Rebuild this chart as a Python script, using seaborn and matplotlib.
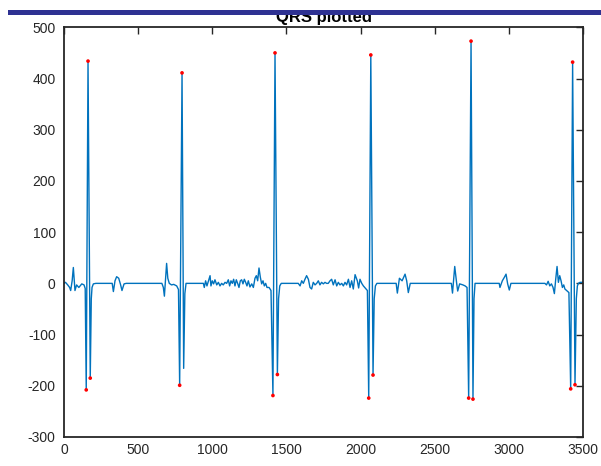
import matplotlib
matplotlib.use("Agg")
import matplotlib.pyplot as plt
from matplotlib.patches import Rectangle
import seaborn as sns
import pandas as pd

# ECG trace: sample index and filtered amplitude
sample_index = [
    0, 10, 25, 38, 45, 55, 63, 74, 85, 100, 120, 135, 143,
    150, 162, 177, 184, 189, 198, 215,
    325, 333, 344, 355, 369, 382, 391, 405, 420,
    660, 670, 677, 684, 692, 700, 710, 725, 740, 760, 772,
    780, 796, 807, 815, 823,
    940, 946, 955, 964, 978, 985, 991, 1000, 1009, 1018, 1030, 1041, 1052,
    1063, 1074, 1086, 1097, 1108, 1117, 1126, 1135, 1144, 1153, 1162, 1171,
    1180, 1189, 1198, 1207, 1216, 1225, 1234, 1243, 1254, 1266, 1277, 1288,
    1297, 1306, 1315, 1324, 1333, 1342, 1351, 1360, 1369, 1383, 1396,
    1409, 1423, 1439, 1447, 1455, 1465,
    1580, 1592, 1603, 1614, 1625, 1636, 1648, 1659, 1670, 1681, 1693, 1704,
    1715, 1726, 1737, 1749, 1760, 1771, 1782, 1794, 1805, 1816, 1828, 1839,
    1850, 1861, 1873, 1884, 1895, 1906, 1918, 1929, 1940, 1951, 1963, 1969,
    1978, 1987, 1996, 2008, 2019, 2028, 2037, 2046,
    2055, 2069, 2084, 2092, 2100, 2110,
    2240, 2248, 2262, 2280, 2300, 2311, 2322, 2335,
    2612, 2620, 2635, 2648, 2655, 2668, 2690, 2705, 2718,
    2729, 2745, 2758, 2765, 2772,
    2935, 2940, 2956, 2970, 2981, 2992, 3003, 3014,
    3243, 3254, 3265, 3276, 3287, 3298, 3307, 3316, 3325, 3334, 3343, 3352,
    3361, 3370, 3378, 3390, 3405,
    3417, 3430, 3446, 3455, 3462, 3469, 3480, 3500,
]
amplitude = [
    0, 2, -3, -8, -14, 5, 31, -14, -3, -8, -1, -3, -10,
    -208, 434, -185, -30, -8, -1, 0,
    0, -16, 5, 13, 10, -3, -14, -1, 0,
    0, -8, -25, 5, 39, 10, 0, -3, -2, -5, -12,
    -199, 411, -166, -20, 0,
    0, -8, 5, -5, 8, 15, -5, 5, -1, 7, -3, 2, -5,
    0, -3, 2, 0, 7, -5, 5, 0, 8, -5, 7, 0,
    -8, 5, 7, -1, 8, 2, -5, 5, -7, -1, -8, 10,
    15, 5, 30, 12, -1, 5, -5, 0, -8, -8, -14,
    -219, 450, -178, -30, -5, 0,
    0, -5, 5, 0, 8, 15, 8, -8, -11, 2, -3, 0,
    5, -3, 2, -1, 2, 0, 0, 5, 8, -3, 7, -5,
    2, -3, 0, -5, 2, -3, 8, -8, 5, -11, 17, 12,
    5, -9, 8, 0, -5, -8, -11, -14,
    -224, 446, -179, -30, -5, 0,
    0, -19, 10, 5, 18, 5, -18, 0,
    0, -19, 33, 0, -15, -1, -3, -5, -8,
    -224, 473, -226, -30, 0,
    0, -8, 5, 12, 18, -1, -13, 0,
    0, -3, 4, -5, -1, -8, -20, 8, 33, 2, 15, 5,
    -8, -3, -11, -14, -18,
    -206, 432, -198, -30, -5, 0, 2, 2,
]

# Detected Q, R and S points
peak_index = [150, 162, 177, 780, 796, 1409, 1423, 1439,
              2055, 2069, 2084, 2729, 2745, 2758, 3417, 3430, 3446]
peak_amp = [-208, 434, -185, -199, 411, -219, 450, -178,
            -224, 446, -179, -224, 473, -226, -206, 432, -198]

x_ticks = [0, 500, 1000, 1500, 2000, 2500, 3000, 3500]
y_ticks = [-300, -200, -100, 0, 100, 200, 300, 400, 500]

sns.set_style("white")
plt.rcParams["font.family"] = ["Liberation Sans", "DejaVu Sans"]
plt.rcParams["axes.unicode_minus"] = False

trace = pd.DataFrame({"n": sample_index, "v": amplitude})
peaks = pd.DataFrame({"n": peak_index, "v": peak_amp})

W, H = 601, 466
fig = plt.figure(figsize=(W / 100, H / 100), dpi=100)
ax = fig.add_axes([64 / W, 29 / H, 519 / W, 409.7 / H])

sns.lineplot(data=trace, x="n", y="v", ax=ax, color="#0072BD",
             linewidth=1.0, estimator=None, sort=False)
sns.scatterplot(data=peaks, x="n", y="v", ax=ax, color="red",
                s=7, edgecolor="none", zorder=3)

ax.set_xlim(0, 3500)
ax.set_ylim(-300, 500)
ax.set_xticks(x_ticks)
ax.set_yticks(y_ticks)
ax.set_xlabel("")
ax.set_ylabel("")
ax.tick_params(direction="in", top=True, right=True, length=5, width=1,
               colors="#262626", labelsize=10)
ax.tick_params(axis="x", pad=4)
ax.tick_params(axis="y", pad=6)
for s in ax.spines.values():
    s.set_visible(True)
    s.set_color("#262626")
    s.set_linewidth(1.3)

fig.text(324 / W, 1 - 22 / H, "QRS plotted", ha="center", va="baseline",
         fontsize=12, fontweight="bold", color="black", zorder=1)
fig.patches.append(Rectangle((7.7 / W, 1 - 15.3 / H), 1 - 7.7 / W, 5.7 / H,
                             transform=fig.transFigure, facecolor="#2e3192",
                             edgecolor="none", zorder=5))

fig.savefig("out.png", dpi=100)
